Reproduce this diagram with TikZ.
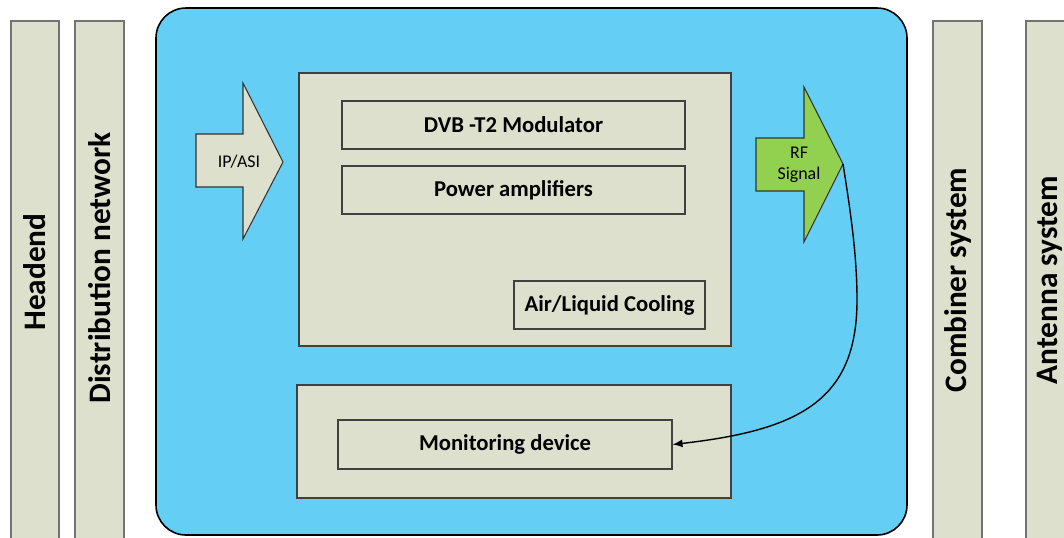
\documentclass[tikz,border=0pt]{standalone}
\usepackage{fontspec}
\setmainfont{Carlito}
\usetikzlibrary{arrows.meta,calc,positioning}
\definecolor{panelblue}{HTML}{64CEF5}
\definecolor{boxgrey}{HTML}{DDE0CC}
\definecolor{rfgreen}{HTML}{92D050}

\begin{document}
\begin{tikzpicture}[x=0.2mm,y=-0.2mm,
  bar/.style={draw=black!55, fill=boxgrey, line width=0.6pt},
  barlabel/.style={rotate=90, font=\fontsize{17.8}{21}\selectfont\bfseries},
  box/.style={draw=black!75, fill=boxgrey, line width=0.6pt, inner sep=0pt},
  boxlabel/.style={font=\fontsize{12.9}{15}\selectfont\bfseries},
  flow/.style={draw=black!80, line width=0.6pt, line join=miter}]
  \useasboundingbox (0,0) rectangle (1064,537);
  % chain outside the transmitter
  \draw[bar] (11,21) rectangle (59,560);
  \draw[bar] (75,21) rectangle (124,560);
  \draw[bar] (933,21) rectangle (982,560);
  \draw[bar] (1026,21) rectangle (1075,560);
  \node[barlabel] (headend) at (35,272) {Headend};
  \node[barlabel] (distnet) at (99.5,268) {Distribution network};
  \node[barlabel] (combiner) at (957.5,280) {Combiner system};
  \node[barlabel] (antenna) at (1050,280) {Antenna system};
  % transmitter
  \draw[fill=panelblue, line width=0.9pt, rounded corners=6mm] (156,8) rectangle (907,535);
  \node[box, minimum width=86.4mm, minimum height=54.6mm] (tx) at (515,209.5) {};
  \node[box, boxlabel, minimum width=68.6mm, minimum height=9.6mm] (dvb) at (513.5,125) {DVB -T2 Modulator};
  \node[box, boxlabel, minimum width=68.6mm, minimum height=9.6mm] (pa) at (513.5,190) {Power amplifiers};
  \node[box, boxlabel, minimum width=38.2mm, minimum height=9.6mm] (cool) at (609.5,305) {Air/Liquid Cooling};
  \node[box, minimum width=86.8mm, minimum height=22.6mm] (monbox) at (514,441.5) {};
  \node[box, boxlabel, minimum width=66.8mm, minimum height=9.8mm] (mon) at (505,444.5) {Monitoring device};
  % input and output arrows
  \draw[flow, fill=boxgrey] (196,134) -- (243,134) -- (243,83) -- (283,162)
    -- (243,239) -- (243,187) -- (196,187) -- cycle;
  \node[font=\fontsize{10.2}{12}\selectfont] (ipasi) at (239,162) {IP/ASI};
  \draw[flow, fill=rfgreen] (756,138) -- (804,138) -- (804,87) -- (843,164)
    -- (804,242) -- (804,191) -- (756,191) -- cycle;
  \node[font=\fontsize{10.2}{12}\selectfont, align=center] (rf) at (799,165) {RF\\Signal};
  \coordinate (rftip) at (843,164);
  \coordinate (bend) at (857,300);
  \draw[line width=0.8pt, -{Latex[length=2mm,width=1.6mm]}] (rftip)
    .. controls (852,220) and (857,260) .. (bend)
    .. controls (857,400) and (800,430) .. (mon.east);
\end{tikzpicture}
\end{document}
